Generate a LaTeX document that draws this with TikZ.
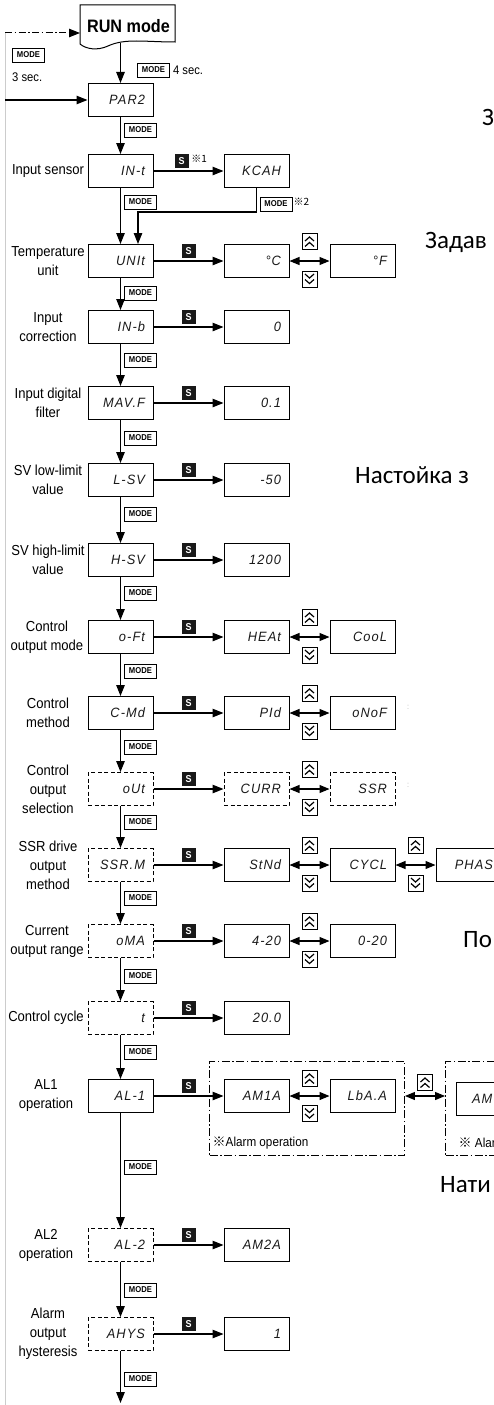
\documentclass[tikz,border=0pt]{standalone}
\usepackage{fontspec}
\setmainfont{Liberation Sans}[FakeStretch=0.9]
\newfontfamily\segfont{Liberation Sans}[FakeStretch=0.95,LetterSpace=8]
\newfontfamily\markfont{Noto Sans CJK JP}
\newfontfamily\rufont{Carlito}
\usetikzlibrary{positioning,arrows.meta,calc,fit}

\tikzset{
  upkey/.pic={
    \draw[line width=.8pt,fill=white] (-7.5,-8) rectangle (7.5,8);
    \draw[line width=1.2pt] (-4.5,-.5) -- (0,-4.5) -- (4.5,-.5) (-4.5,5) -- (0,1) -- (4.5,5);
  },
  downkey/.pic={
    \draw[line width=.8pt,fill=white] (-7.5,-8) rectangle (7.5,8);
    \draw[line width=1.2pt] (-4.5,.5) -- (0,4.5) -- (4.5,.5) (-4.5,-5) -- (0,-1) -- (4.5,-5);
  }
}

\begin{document}
\begin{tikzpicture}[
  x=1pt,y=-1pt,
  node distance=70pt,
  every node/.style={inner sep=0pt},
  mainbox/.style={draw,line width=1pt,minimum width=65pt,minimum height=33pt,
    text width=49pt,inner xsep=8pt,align=right,text=black!90,
    font=\segfont\itshape\fontsize{13.5}{13.5}\selectfont},
  dashbox/.style={mainbox,dash pattern=on 4pt off 2.5pt},
  lbl/.style={align=center,font=\fontsize{14.5}{19}\selectfont},
  modetag/.style={draw,line width=.9pt,minimum width=32pt,minimum height=14pt,
    font=\bfseries\fontsize{8.5}{8.5}\selectfont,anchor=west},
  stag/.style={fill=black!90,text=white,minimum width=14pt,minimum height=14pt,
    font=\bfseries\fontsize{10}{10}\selectfont},
  note/.style={anchor=west,font=\fontsize{12.5}{12.5}\selectfont},
  arrow/.style={line width=1.1pt,-{Triangle[length=11pt,width=8.5pt]}},
  toggle/.style={line width=1.1pt,{Triangle[length=10pt,width=8pt]}-{Triangle[length=10pt,width=8pt]}},
  alarmframe/.style={draw,line width=.9pt,inner sep=0pt,dash pattern=on 8pt off 2.5pt on 1.5pt off 2.5pt},
  rutext/.style={anchor=west,font=\rufont\fontsize{25}{25}\selectfont}
]
\useasboundingbox (0,0) rectangle (494,1405);
\clip (0,0) rectangle (494,1405);

% RUN mode and the way back
\draw[line width=1pt,fill=white] (80,5) -- (175,5) -- (175,42)
  .. controls (145,42) and (125,38) .. (108,46)
  .. controls (97,51) and (86,49) .. (80,44) -- cycle;
\node[font=\bfseries\fontsize{18}{18}\selectfont] (run) at (128.5,26.5) {RUN mode};
\coordinate (runbot) at (120.5,43);
\coordinate (runin) at (80,33);
\coordinate (looptop) at (5,33);
\coordinate (loopin) at (5,100);
\coordinate (loopbot) at (5,1405);
\draw[black!20,line width=.8pt] (looptop) -- (loopbot);
\draw[line width=1pt,dash pattern=on 7pt off 2.5pt on 1.5pt off 2.5pt,
  -{Triangle[length=11pt,width=8.5pt]}] (looptop) -- (runin);
\node[modetag] at (12,55) {MODE};
\node[note] at (12,77) {3 sec.};
\node[modetag] (m4) at (137,70) {MODE};
\node[note,right=3pt of m4] {4 sec.};

% parameter column
\node[mainbox] (par2) at (120.5,100) {PAR2};
\node[mainbox] (intt) at (120.5,171) {IN-t};
\node[mainbox] (unit) at (120.5,261) {UNIt};
\node[mainbox] (inb) at (120.5,327) {IN-b};
\node[mainbox] (mavf) at (120.5,403) {MAV.F};
\node[mainbox] (lsv) at (120.5,480) {L-SV};
\node[mainbox] (hsv) at (120.5,560) {H-SV};
\node[mainbox] (oft) at (120.5,637) {o-Ft};
\node[mainbox] (cmd) at (120.5,713) {C-Md};
\node[dashbox] (out) at (120.5,789) {oUt};
\node[dashbox] (ssrm) at (120.5,865) {SSR.M};
\node[dashbox] (oma) at (120.5,941) {oMA};
\node[dashbox] (tcyc) at (120.5,1018) {t};
\node[mainbox] (al1) at (120.5,1096) {AL-1};
\node[dashbox] (al2) at (120.5,1245) {AL-2};
\node[dashbox] (ahys) at (120.5,1334) {AHYS};
\coordinate (endpt) at (120.5,1403);

\node[lbl] at (48,171) {Input sensor};
\node[lbl] at (48,261) {Temperature\\unit};
\node[lbl] at (48,327) {Input\\correction};
\node[lbl] at (48,403) {Input digital\\filter};
\node[lbl] at (48,480) {SV low-limit\\value};
\node[lbl] at (48,560) {SV high-limit\\value};
\node[lbl] at (47,637) {Control\\output mode};
\node[lbl] at (48,713) {Control\\method};
\node[lbl] at (48,789) {Control\\output\\selection};
\node[lbl] at (48,865) {SSR drive\\output\\method};
\node[lbl] at (47,941) {Current\\output range};
\node[lbl] at (46,1018) {Control cycle};
\node[lbl] at (46,1096) {AL1\\operation};
\node[lbl] at (46,1245) {AL2\\operation};
\node[lbl] at (48,1334) {Alarm\\output\\hysteresis};

\draw[arrow] (runbot) -- (par2);
\draw[arrow] (loopin) -- (par2);
\draw[arrow] (par2) -- (intt);
\draw[arrow] (intt) -- (unit);
\draw[arrow] (unit) -- (inb);
\draw[arrow] (inb) -- (mavf);
\draw[arrow] (mavf) -- (lsv);
\draw[arrow] (lsv) -- (hsv);
\draw[arrow] (hsv) -- (oft);
\draw[arrow] (oft) -- (cmd);
\draw[arrow] (cmd) -- (out);
\draw[arrow] (out) -- (ssrm);
\draw[arrow] (ssrm) -- (oma);
\draw[arrow] (oma) -- (tcyc);
\draw[arrow] (tcyc) -- (al1);
\draw[arrow] (al1) -- (al2);
\draw[arrow] (al2) -- (ahys);
\draw[arrow] (ahys) -- (endpt);

\node[modetag] at ([xshift=3.5pt,yshift=-13pt]par2.south) {MODE};
\node[modetag] at ([xshift=3.5pt,yshift=-14pt]intt.south) {MODE};
\node[modetag] at ([xshift=3.5pt,yshift=-15pt]unit.south) {MODE};
\node[modetag] at ([xshift=3.5pt,yshift=-16pt]inb.south) {MODE};
\node[modetag] at ([xshift=3.5pt,yshift=-18pt]mavf.south) {MODE};
\node[modetag] at ([xshift=3.5pt,yshift=-17pt]lsv.south) {MODE};
\node[modetag] at ([xshift=3.5pt,yshift=-16pt]hsv.south) {MODE};
\node[modetag] at ([xshift=3.5pt,yshift=-17pt]oft.south) {MODE};
\node[modetag] at ([xshift=3.5pt,yshift=-17pt]cmd.south) {MODE};
\node[modetag] at ([xshift=3.5pt,yshift=-16pt]out.south) {MODE};
\node[modetag] at ([xshift=3.5pt,yshift=-16pt]ssrm.south) {MODE};
\node[modetag] at ([xshift=3.5pt,yshift=-18pt]oma.south) {MODE};
\node[modetag] at ([xshift=3.5pt,yshift=-17pt]tcyc.south) {MODE};
\node[modetag] at ([xshift=3.5pt,yshift=-54pt]al1.south) {MODE};
\node[modetag] at ([xshift=3.5pt,yshift=-28pt]al2.south) {MODE};
\node[modetag] at ([xshift=3.5pt,yshift=-28pt]ahys.south) {MODE};

% setting values
\node[mainbox,right=of intt] (kcah) {KCAH};
\draw[arrow] (intt) -- node[stag,pos=.4,above=2pt] (s1) {S} (kcah);
\node[anchor=west,font=\markfont\fontsize{10}{10}\selectfont] at ([xshift=2pt,yshift=3pt]s1.east) {※1};
\draw[arrow] (kcah.south) -- ++(0,24) -| ([xshift=17.5pt]unit.north);
\node[modetag] (m2) at ([xshift=3pt,yshift=-16pt]kcah.south) {MODE};
\node[anchor=west,font=\markfont\fontsize{10}{10}\selectfont] at ([xshift=1pt,yshift=2pt]m2.east) {※2};

\node[mainbox,right=of unit] (degc) {°C};
\node[mainbox,right=40pt of degc] (degf) {°F};
\draw[arrow] (unit) -- node[stag,above=2pt] {S} (degc);
\draw[toggle] (degc) -- (degf);
\pic at ($(degc.east)!.5!(degf.west)+(0,-19.5)$) {upkey};
\pic at ($(degc.east)!.5!(degf.west)+(0,18)$) {downkey};

\node[mainbox,right=of inb] (bias) {0};
\draw[arrow] (inb) -- node[stag,above=2pt] {S} (bias);

\node[mainbox,right=of mavf] (filt) {0.1};
\draw[arrow] (mavf) -- node[stag,above=2pt] {S} (filt);

\node[mainbox,right=of lsv] (lowv) {-50};
\draw[arrow] (lsv) -- node[stag,above=2pt] {S} (lowv);

\node[mainbox,right=of hsv] (highv) {1200};
\draw[arrow] (hsv) -- node[stag,above=2pt] {S} (highv);

\node[mainbox,right=of oft] (heat) {HEAt};
\node[mainbox,right=40pt of heat] (cool) {CooL};
\draw[arrow] (oft) -- node[stag,above=2pt] {S} (heat);
\draw[toggle] (heat) -- (cool);
\pic at ($(heat.east)!.5!(cool.west)+(0,-19.5)$) {upkey};
\pic at ($(heat.east)!.5!(cool.west)+(0,18)$) {downkey};

\node[mainbox,right=of cmd] (pid) {PId};
\node[mainbox,right=40pt of pid] (onof) {oNoF};
\draw[arrow] (cmd) -- node[stag,above=2pt] {S} (pid);
\draw[toggle] (pid) -- (onof);
\pic at ($(pid.east)!.5!(onof.west)+(0,-19.5)$) {upkey};
\pic at ($(pid.east)!.5!(onof.west)+(0,18)$) {downkey};
\node[text=black!30,font=\fontsize{8}{8}\selectfont] at (408,707) {:};

\node[dashbox,right=of out] (curr) {CURR};
\node[dashbox,right=40pt of curr] (ssr) {SSR};
\draw[arrow] (out) -- node[stag,above=2pt] {S} (curr);
\draw[toggle] (curr) -- (ssr);
\pic at ($(curr.east)!.5!(ssr.west)+(0,-19.5)$) {upkey};
\pic at ($(curr.east)!.5!(ssr.west)+(0,18)$) {downkey};
\node[text=black!30,font=\fontsize{8}{8}\selectfont] at (408,785) {:};

\node[mainbox,right=of ssrm] (stnd) {StNd};
\node[mainbox,right=40pt of stnd] (cycl) {CYCL};
\node[mainbox,right=40pt of cycl] (phas) {PHAS};
\draw[arrow] (ssrm) -- node[stag,above=2pt] {S} (stnd);
\draw[toggle] (stnd) -- (cycl);
\draw[toggle] (cycl) -- (phas);
\pic at ($(stnd.east)!.5!(cycl.west)+(0,-19.5)$) {upkey};
\pic at ($(stnd.east)!.5!(cycl.west)+(0,18)$) {downkey};
\pic at ($(cycl.east)!.5!(phas.west)+(0,-19.5)$) {upkey};
\pic at ($(cycl.east)!.5!(phas.west)+(0,18)$) {downkey};

\node[mainbox,right=of oma] (r420) {4-20};
\node[mainbox,right=40pt of r420] (r020) {0-20};
\draw[arrow] (oma) -- node[stag,above=2pt] {S} (r420);
\draw[toggle] (r420) -- (r020);
\pic at ($(r420.east)!.5!(r020.west)+(0,-19.5)$) {upkey};
\pic at ($(r420.east)!.5!(r020.west)+(0,18)$) {downkey};

\node[mainbox,right=of tcyc] (cyc) {20.0};
\draw[arrow] (tcyc) -- node[stag,above=2pt] {S} (cyc);

% alarm operation
\node[mainbox,right=of al1] (am1a) {AM1A};
\node[mainbox,right=40pt of am1a] (lbaa) {LbA.A};
\node[anchor=west,font=\fontsize{13}{13}\selectfont] (alm1) at ([xshift=-11pt,yshift=-30pt]am1a.south west) {{\markfont ※}Alarm operation};
\coordinate (f1a) at ([xshift=-14pt,yshift=18pt]am1a.north west);
\coordinate (f1b) at ([xshift=9pt,yshift=-42pt]lbaa.south east);
\node[alarmframe,fit=(f1a)(f1b)] (fr1) {};
\node[mainbox,right=60pt of lbaa,yshift=-3pt,align=left,inner xsep=16pt,text width=33pt] (amx) {AM};
\coordinate (f2a) at ([xshift=-10pt]amx.west |- f1a);
\coordinate (f2b) at ([xshift=120pt]f1b);
\node[alarmframe,fit=(f2a)(f2b)] (fr2) {};
\node[anchor=west,font=\fontsize{13}{13}\selectfont] at ([xshift=13pt]f2a |- alm1) {{\markfont ※} Alar};
\draw[arrow] (al1) -- node[stag,above=2pt] {S} (am1a);
\draw[toggle] (am1a) -- (lbaa);
\pic at ($(am1a.east)!.5!(lbaa.west)+(0,-17.5)$) {upkey};
\pic at ($(am1a.east)!.5!(lbaa.west)+(0,17.5)$) {downkey};
\draw[toggle] (fr1.east |- lbaa) -- (fr2.west |- lbaa);
\pic at ($(fr1.east |- lbaa)!.5!(fr2.west |- lbaa)+(0,-13.5)$) {upkey};

\node[mainbox,right=of al2] (am2a) {AM2A};
\draw[arrow] (al2) -- node[stag,above=2pt] {S} (am2a);

\node[mainbox,right=of ahys] (hys) {1};
\draw[arrow] (ahys) -- node[stag,above=2pt] {S} (hys);

% cut-off notes at the right
\node[rutext] at (482,117) {З};
\node[rutext] at (425,242) {Задав};
\node[rutext] at (355,475) {Настойка з};
\node[rutext] at (463,940) {По};
\node[rutext] at (440,1185) {Нати};
\end{tikzpicture}
\end{document}
